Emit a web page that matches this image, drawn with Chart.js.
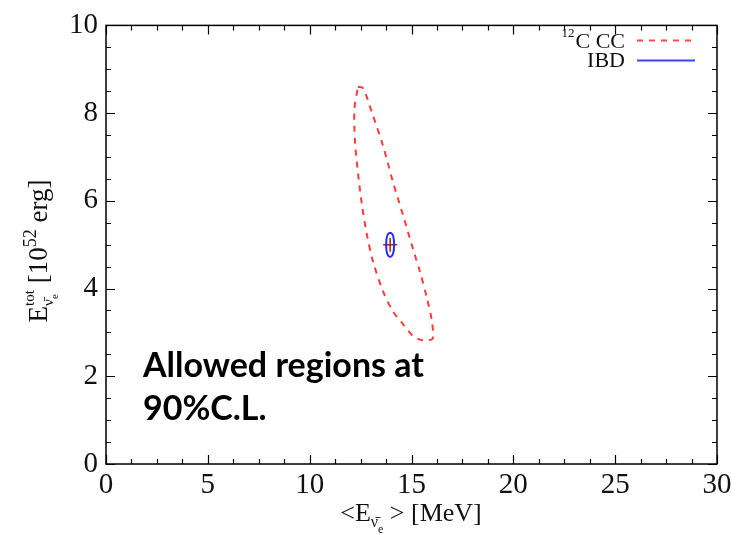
<!DOCTYPE html>
<html>
<head>
<meta charset="utf-8">
<script src="https://cdn.jsdelivr.net/npm/chart.js@4/dist/chart.umd.min.js"></script>
<style>
  html, body { margin: 0; padding: 0; background: #fff; }
  #wrap { width: 742px; height: 535px; }
</style>
</head>
<body>
<div id="wrap"><canvas id="chart" width="742" height="535"></canvas></div>
<script>
// 12C CC allowed region (90% C.L.)
const ccX = [12.37, 12.62, 13.11, 13.60, 14.09, 14.58, 15.07, 15.41, 15.76, 16.00, 16.05, 15.85, 15.45, 15.07, 14.58, 14.09, 13.60, 13.11, 12.81, 12.57, 12.37, 12.22, 12.20, 12.37];
const ccY = [8.60, 8.57, 7.94, 7.26, 6.43, 5.68, 4.91, 4.39, 3.78, 3.26, 2.87, 2.82, 2.83, 2.92, 3.19, 3.48, 3.94, 4.62, 5.23, 5.90, 6.65, 7.40, 8.10, 8.60];

// IBD allowed region
const ibdX = [13.95, 14.07, 14.13, 14.14, 14.13, 14.07, 13.95, 13.83, 13.77, 13.76, 13.77, 13.83, 13.95];
const ibdY = [5.28, 5.23, 5.12, 5.00, 4.88, 4.77, 4.72, 4.77, 4.88, 5.00, 5.12, 5.23, 5.28];

// best fit point
const bestX = [13.95];
const bestY = [5.0];

const xTicks = [0, 5, 10, 15, 20, 25, 30];
const yTicks = [0, 2, 4, 6, 8, 10];

const toPoints = (xs, ys) => xs.map((x, i) => ({ x: x, y: ys[i] }));

const SERIF = "'Liberation Serif', 'DejaVu Serif', serif";
Chart.defaults.font.family = SERIF;
Chart.defaults.color = "#111";

// frame, inner ticks, axis titles, legend and annotation
const decorPlugin = {
  id: "decor",
  afterDraw(chart) {
    const ctx = chart.ctx;
    const a = chart.chartArea;
    const xs = chart.scales.x;
    const ys = chart.scales.y;
    ctx.save();
    ctx.strokeStyle = "#000";
    ctx.lineWidth = 1.5;
    ctx.strokeRect(a.left, a.top, a.right - a.left, a.bottom - a.top);

    // minor + major ticks, pointing inwards on all four sides
    ctx.lineWidth = 1.2;
    ctx.beginPath();
    for (let v = 0; v <= 30.001; v += 1.25) {
      const px = Math.round(xs.getPixelForValue(v)) + 0.5;
      const len = Math.abs(v % 5) < 0.01 ? 9 : 5;
      ctx.moveTo(px, a.bottom); ctx.lineTo(px, a.bottom - len);
      ctx.moveTo(px, a.top); ctx.lineTo(px, a.top + len);
    }
    for (let v = 0; v <= 10.001; v += 0.5) {
      const py = Math.round(ys.getPixelForValue(v)) + 0.5;
      const len = Math.abs(v % 2) < 0.01 ? 9 : 5;
      ctx.moveTo(a.left, py); ctx.lineTo(a.left + len, py);
      ctx.moveTo(a.right, py); ctx.lineTo(a.right - len, py);
    }
    ctx.stroke();

    ctx.fillStyle = "#111";
    ctx.textBaseline = "alphabetic";

    // x axis title: <E_{nu-bar e}> [MeV]
    {
      const parts = [
        { t: "<E", f: 26, dy: 0 },
        { t: "\u03BD\u0304", f: 16, dy: 6 },
        { t: "e", f: 12, dy: 12 },
        { t: " > [MeV]", f: 26, dy: 0 },
      ];
      let w = 0;
      parts.forEach(p => { ctx.font = p.f + "px " + SERIF; p.w = ctx.measureText(p.t).width; w += p.w; });
      let x = 411 - w / 2;
      const base = 521;
      parts.forEach(p => {
        ctx.font = p.f + "px " + SERIF;
        ctx.fillText(p.t, x, base + p.dy);
        x += p.w;
      });
    }

    // y axis title: E^tot_{nu-bar e} [10^52 erg]
    {
      ctx.save();
      ctx.translate(47, 251);
      ctx.rotate(-Math.PI / 2);
      const segs = [
        { t: "E", f: 27, dy: 0 },
        { t: "tot", f: 15, dy: -13 },
        { t: "\u03BD\u0304", f: 15, dy: 6 },
        { t: "e", f: 11, dy: 11 },
        { t: " [10", f: 27, dy: 0 },
        { t: "52", f: 18, dy: -11 },
        { t: " erg]", f: 27, dy: 0 },
      ];
      // "tot" and the subscript share the same x start
      segs.forEach(s => { ctx.font = s.f + "px " + SERIF; s.w = ctx.measureText(s.t).width; });
      const totW = segs[1].w;
      const subW = segs[2].w + segs[3].w;
      const w = segs[0].w + Math.max(totW, subW) + segs[4].w + segs[5].w + segs[6].w;
      let x = -w / 2;
      ctx.font = segs[0].f + "px " + SERIF; ctx.fillText(segs[0].t, x, 0); x += segs[0].w;
      ctx.font = segs[1].f + "px " + SERIF; ctx.fillText(segs[1].t, x, segs[1].dy);
      ctx.font = segs[2].f + "px " + SERIF; ctx.fillText(segs[2].t, x, segs[2].dy);
      ctx.font = segs[3].f + "px " + SERIF; ctx.fillText(segs[3].t, x + segs[2].w, segs[3].dy);
      x += Math.max(totW, subW);
      for (let i = 4; i < segs.length; i++) {
        ctx.font = segs[i].f + "px " + SERIF;
        ctx.fillText(segs[i].t, x, segs[i].dy);
        x += segs[i].w;
      }
      ctx.restore();
    }

    // legend
    ctx.textAlign = "right";
    ctx.font = "22px " + SERIF;
    ctx.fillText("C CC", 625, 48);
    const ccW = ctx.measureText("C CC").width;
    ctx.font = "13px " + SERIF;
    ctx.fillText("12", 625 - ccW - 1, 37);
    ctx.font = "22px " + SERIF;
    ctx.fillText("IBD", 625, 67);
    ctx.textAlign = "left";

    ctx.lineWidth = 2;
    ctx.strokeStyle = "#ff4a4a";
    ctx.setLineDash([6, 6]);
    ctx.beginPath(); ctx.moveTo(637, 40.5); ctx.lineTo(694, 40.5); ctx.stroke();
    ctx.setLineDash([]);
    ctx.strokeStyle = "#4040ff";
    ctx.beginPath(); ctx.moveTo(637, 60.5); ctx.lineTo(695, 60.5); ctx.stroke();

    // annotation
    ctx.fillStyle = "#000";
    ctx.font = "bold 34px Lato, 'Open Sans', sans-serif";
    ctx.fillText("Allowed regions at", 143, 377, 286);
    ctx.fillText("90%C.L.", 143, 420);
    ctx.restore();
  },
};

new Chart(document.getElementById("chart"), {
  type: "scatter",
  data: {
    datasets: [
      {
        label: "12C CC",
        data: toPoints(ccX, ccY),
        showLine: true,
        borderColor: "#ff3b3b",
        borderWidth: 2,
        borderDash: [6, 6],
        pointRadius: 0,
        tension: 0.3,
        fill: false,
      },
      {
        label: "IBD",
        data: toPoints(ibdX, ibdY),
        showLine: true,
        borderColor: "#2a2aff",
        borderWidth: 2,
        pointRadius: 0,
        tension: 0.4,
        fill: false,
      },
      {
        label: "best fit",
        data: toPoints(bestX, bestY),
        showLine: false,
        pointStyle: "cross",
        pointRadius: 7,
        borderColor: "#9a2222",
        borderWidth: 1.5,
      },
    ],
  },
  options: {
    responsive: false,
    animation: false,
    layout: { padding: { top: 22, right: 25, left: 0, bottom: 0 } },
    plugins: {
      legend: { display: false },
      tooltip: { enabled: false },
    },
    scales: {
      x: {
        type: "linear",
        min: 0,
        max: 30,
        afterBuildTicks: (s) => { s.ticks = xTicks.map(v => ({ value: v })); },
        afterFit: (s) => { s.height = 71; },
        grid: { display: false, drawTicks: false },
        border: { display: false },
        ticks: {
          color: "#111",
          padding: 4,
          maxRotation: 0,
          font: { family: SERIF, size: 29 },
        },
      },
      y: {
        type: "linear",
        min: 0,
        max: 10,
        afterBuildTicks: (s) => { s.ticks = yTicks.map(v => ({ value: v })); },
        afterFit: (s) => { s.width = 106; },
        grid: { display: false, drawTicks: false },
        border: { display: false },
        ticks: {
          color: "#111",
          padding: 8,
          font: { family: SERIF, size: 29 },
        },
      },
    },
  },
  plugins: [decorPlugin],
});
</script>
</body>
</html>
